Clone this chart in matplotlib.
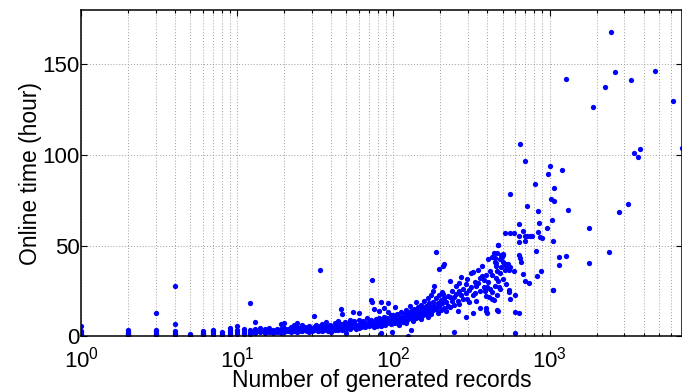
import numpy as np
import matplotlib
matplotlib.use('Agg')
import matplotlib.pyplot as plt
from matplotlib.ticker import LogLocator, NullLocator

plt.rcParams['font.family'] = ['Liberation Sans', 'DejaVu Sans']
plt.rcParams['mathtext.fontset'] = 'custom'
plt.rcParams['mathtext.rm'] = 'Liberation Sans'
plt.rcParams['mathtext.it'] = 'Liberation Sans'

# records / online hours
small_x = [1]*7 + [2]*6 + [3]*6 + [4]*6 + [5]*3 + [6]*4 + [7]*4 + [8]*3 + [9]*5 \
    + [10]*4 + [11]*4 + [12]*4 + [13]*4 + [14]*3 + [15]*3 + [16]*3 + [17]*3 \
    + [18]*3 + [19]*4 + [20]*4 + [21]*2 + [22]*3 + [23]*3 + [24]*4 + [25]*2 \
    + [26]*3 + [27]*2 + [28]*2 + [29]*3 + [30]*2
small_y = [6.0, 3.2, 2.2, 1.5, 1.0, 0.6, 0.3,
           3.6, 2.6, 1.8, 1.2, 0.7, 0.3,
           13.2, 3.8, 2.8, 1.9, 1.2, 0.6,
           28.0, 6.8, 2.8, 1.8, 1.1, 0.5,
           1.6, 1.0, 0.5,
           3.0, 2.0, 1.2, 0.6,
           3.8, 2.8, 1.8, 1.0,
           2.2, 1.4, 0.8,
           4.5, 3.4, 2.4, 1.4, 0.7,
           5.6, 3.8, 2.6, 1.6,
           4.2, 3.0, 2.0, 1.2,
           18.7, 3.6, 2.4, 1.4,
           8.2, 4.4, 3.0, 2.0,
           4.6, 3.2, 2.2,
           4.0, 2.8, 1.9,
           4.8, 3.4, 2.4,
           3.8, 2.6, 1.8,
           4.4, 3.0, 2.2,
           7.0, 4.0, 2.8, 2.0,
           7.7, 4.6, 3.2, 2.4,
           4.2, 3.0,
           5.2, 3.6, 2.6,
           6.4, 4.4, 3.0,
           7.3, 5.0, 3.4, 2.4,
           4.8, 3.2,
           6.4, 4.2, 2.8,
           5.4, 3.8,
           4.6, 3.0,
           5.8, 3.6, 2.6,
           4.4, 3.2]

mid_x = [31, 31, 31, 32, 32, 33, 33, 34, 34, 34, 35, 35, 35, 36, 36, 37, 37, 37,
         38, 38, 39, 39, 40, 40, 40, 42, 42, 42, 43, 43, 44, 44, 44, 45, 45,
         46, 46, 46, 47, 47, 47, 48, 48, 49, 49, 50, 50, 50, 52, 52, 53, 53, 53,
         55, 55, 55, 56, 56, 58, 58, 60, 60, 60, 60, 62, 62, 64, 64, 66, 66,
         68, 68, 70, 70, 72, 72, 72, 73, 73, 75, 75, 75, 77, 77, 79, 79,
         81, 81, 81, 83, 83, 83, 83, 85, 85, 87, 87, 87, 89, 89, 91, 91,
         93, 93, 93, 96, 96, 96, 98, 98, 100, 100, 100]
mid_y = [11.5, 5.0, 3.4, 6.2, 4.0, 4.8, 3.0, 36.6, 5.6, 3.6, 7.0, 4.4, 2.8,
         5.2, 3.8, 8.2, 6.0, 4.2, 5.0, 3.2, 6.6, 4.6, 5.6, 3.8, 2.6,
         7.2, 5.0, 3.6, 6.0, 4.2, 8.8, 5.4, 3.4, 6.4, 4.6,
         15.2, 7.0, 5.0, 12.3, 5.8, 3.8, 6.6, 4.4, 8.0, 5.2, 6.2, 4.0, 1.9,
         7.6, 5.4, 9.0, 6.0, 4.2, 13.7, 7.0, 5.0, 8.4, 5.8, 6.6, 4.4,
         12.8, 9.2, 6.4, 4.6, 7.8, 5.2, 8.8, 6.0, 7.2, 5.0, 10.0, 6.6,
         8.2, 5.6, 20.2, 9.0, 6.2, 31.2, 19.2, 15.0, 7.4, 5.4, 9.6, 6.8,
         8.0, 5.8, 14.1, 10.0, 7.0, 18.9, 8.6, 6.0, 2.0, 9.4, 6.6,
         15.6, 11.0, 7.6, 8.8, 6.2, 10.4, 7.2, 18.3, 13.7, 8.2,
         11.6, 9.0, 6.8, 8.0, 2.2, 12.0, 9.6, 7.4]

big_x = [103, 103, 103, 105, 105, 108, 108, 110, 110, 112, 112, 115, 115,
         118, 118, 120, 120, 120, 123, 123, 125, 125, 125, 128, 128,
         130, 130, 130, 133, 133, 136, 136, 140, 140, 140, 143, 143,
         146, 146, 150, 150, 150, 154, 154, 158, 158, 162, 162,
         166, 166, 166, 170, 170, 175, 175, 175, 180, 180, 180, 183, 183,
         188, 188, 188, 192, 192, 197, 197, 197, 202, 202, 206, 206,
         207, 207, 212, 212, 212, 218, 218, 224, 224, 232, 232, 232,
         238, 238, 246, 246, 246, 252, 252, 258, 258, 265, 265, 265,
         272, 272, 280, 280, 290, 290, 290, 298, 298,
         305, 305, 315, 315, 324, 324, 324, 332, 332, 340, 340, 350, 350,
         360, 360, 360, 370, 370, 380, 380, 385, 390, 392, 392, 392, 395,
         400, 405, 405, 410, 415, 415, 425, 430, 430, 430, 438, 440, 445,
         445, 445, 452, 455, 455, 460, 462, 462, 462, 466, 466, 471, 471,
         475, 480, 480, 480, 490, 490, 495, 500, 500, 500, 505, 515, 515,
         520, 530, 530, 533, 545, 550, 550, 550, 557, 557, 562, 562,
         589, 589, 600, 600, 605, 636, 640, 640, 640, 640, 645, 645, 660,
         678, 681, 695, 697, 697, 700, 716, 718, 744, 755, 770, 805, 821,
         829, 838, 846, 850, 866, 885, 900, 957, 981, 1000]
big_y = [16.0, 10.0, 7.6, 12.4, 8.4, 9.2, 6.6, 11.0, 7.8, 13.6, 9.4, 10.6, 8.0,
         12.2, 8.8, 14.8, 10.4, 7.2, 11.8, 9.0, 0.4, 13.0, 9.8, 16.8, 11.2,
         3.7, 14.0, 10.2, 12.6, 8.6, 15.2, 11.4, 19.2, 13.4, 10.0, 16.0, 12.0,
         14.4, 10.8, 17.6, 12.8, 9.4, 15.8, 11.6, 19.8, 14.0, 16.8, 12.4,
         21.0, 15.2, 11.0, 18.4, 13.6, 22.6, 16.4, 12.2, 25.3, 19.0, 14.4,
         27.9, 17.0, 46.7, 21.0, 15.4, 18.6, 13.0, 37.2, 23.0, 16.8,
         20.2, 14.8, 24.4, 18.2, 39.0, 23.5, 39.8, 21.0, 15.6, 19.2, 13.8,
         22.4, 17.0, 30.8, 22.0, 16.0, 25.0, 19.4, 2.6, 21.6, 17.2,
         27.6, 23.2, 19.8, 14.2, 29.4, 24.8, 18.0, 33.0, 22.6, 26.4, 20.4,
         10.7, 28.8, 23.8, 31.4, 20.8,
         25.8, 18.8, 34.8, 27.2, 35.7, 22.8, 12.9, 30.2, 24.0, 27.8, 19.6,
         36.8, 29.6, 32.4, 25.2, 15.8, 38.6, 33.2, 31.0, 27.0, 25.0, 15.5,
         34.0, 22.4, 14.0, 27.5, 13.2, 42.4, 30.0, 22.0, 36.0, 26.0, 24.5,
         44.0, 33.6, 20.8, 46.2, 20.0, 41.0, 28.0, 43.0, 40.5, 39.0, 32.4,
         23.0, 14.7, 46.0, 36.2, 50.6, 30.8, 50.4, 14.1, 27.0, 42.6, 34.8,
         26.0, 44.6, 38.0, 43.6, 45.2, 40.8, 31.6, 45.0, 57.0, 36.5, 39.2,
         40.0, 29.0, 37.8, 40.0, 25.7, 24.7, 36.8, 78.4, 57.0, 20.7, 38.4,
         57.2, 36.0, 1.9, 13.6, 23.1, 13.0, 61.9, 51.9, 45.0, 55.3, 105.9,
         43.0, 41.2, 34.5, 58.3, 96.7, 30.6, 52.4, 55.3, 71.7, 55.3, 29.3,
         55.3, 55.3, 83.9, 47.3, 33.5, 69.2, 57.5, 62.5, 55.0, 36.3, 54.2,
         59.7, 89.4, 93.8]

top_x = [1019, 1040, 1045, 1060, 1060, 1072, 1075, 1148, 1153, 1206, 1267,
         1273, 1310, 1778, 1796, 1906, 2275, 2415, 2460, 2636, 2797, 3190,
         3340, 3494, 3665, 3776, 4710, 6210, 7000]
top_y = [75.8, 64.3, 25.7, 25.7, 52.6, 81.9, 74.7, 39.2, 43.6, 91.8, 44.2,
         141.6, 69.5, 40.5, 59.9, 126.2, 137.2, 46.5, 167.6, 145.6, 68.5, 73.1,
         141.4, 101.3, 98.7, 103.5, 146.0, 129.7, 104.0]

records = np.array(small_x + mid_x + big_x + top_x, dtype=float)
hours = np.array(small_y + mid_y + big_y + top_y)

fig = plt.figure(figsize=(6.82, 3.92), dpi=100)
ax = fig.add_axes([0.1188, 0.1416, 0.8812, 0.834])

ax.plot(records, hours, 'o', color=(0, 0, 1), markersize=3.8,
        markeredgewidth=0, clip_on=True)

ax.set_xscale('log')
ax.set_xlim(1, 7050)
ax.set_ylim(0, 180)
ax.set_yticks([0, 50, 100, 150])
ax.yaxis.set_minor_locator(NullLocator())
ax.xaxis.set_major_locator(LogLocator(base=10))
ax.xaxis.set_minor_locator(LogLocator(base=10, subs=np.arange(2, 10)))

ax.grid(True, which='major', axis='both', linestyle=(0, (1, 2)),
        color='0.62', linewidth=0.7)
ax.grid(True, which='minor', axis='x', linestyle=(0, (1, 2)),
        color='0.62', linewidth=0.7)
ax.set_axisbelow(True)

ax.tick_params(which='both', direction='in', top=True, right=True,
               labelsize=16, width=0.8)
ax.tick_params(which='major', length=4)
ax.tick_params(which='minor', length=2.5)
ax.tick_params(axis='x', which='major', pad=7)
ax.tick_params(axis='y', which='major', pad=1)
for s in ax.spines.values():
    s.set_linewidth(1.1)

ax.set_xlabel('Number of generated records', fontsize=16.5, labelpad=-2.5)
ax.set_ylabel('Online time (hour)', fontsize=16.5, labelpad=0)

fig.savefig('out.png', dpi=100)
